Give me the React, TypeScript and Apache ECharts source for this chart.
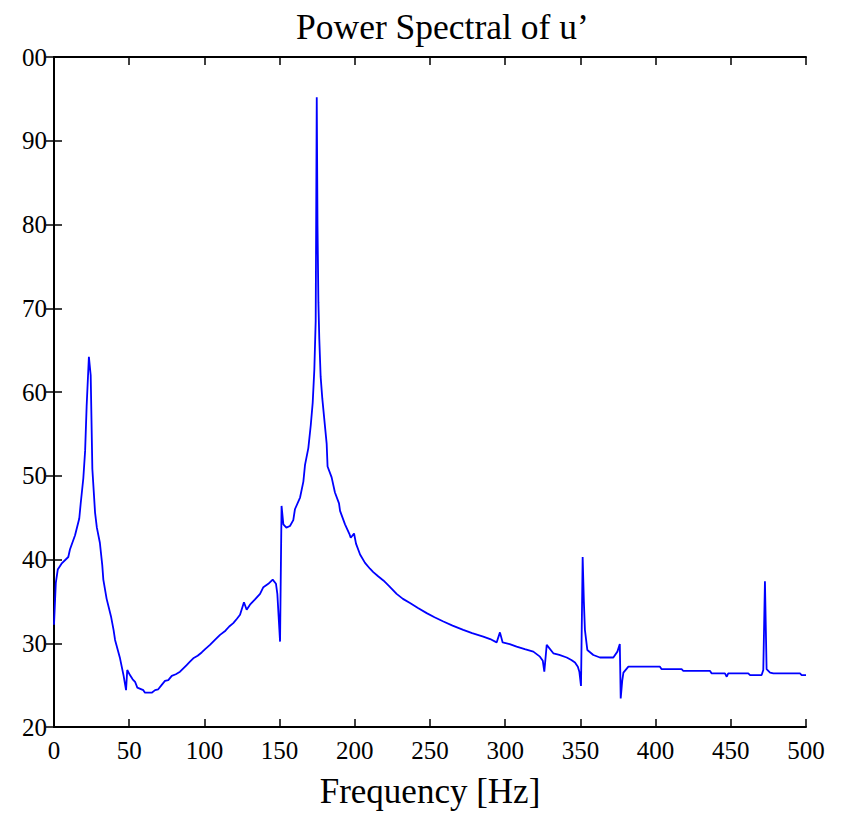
import React, { useEffect, useRef } from "react";
import * as echarts from "echarts";

const titleText = "Power Spectral of u\u2019";
const xName = "Frequency [Hz]";
const xTicks = [0, 50, 100, 150, 200, 250, 300, 350, 400, 450, 500];
const yTicks = [20, 30, 40, 50, 60, 70, 80, 90, 100];

const freq = [
  0, 1.2, 2.5, 5, 9.5, 10.6, 14, 16.8, 17.7, 19.5, 20.7, 21.7, 23.2, 24.4, 25.5, 27.3, 28.5, 30.5, 32.1,
  32.8, 35.0, 37.9, 39.6, 40.6, 43.9, 46.3, 47.9, 48.7, 50.5, 52.3, 53.9, 55.4, 59.4, 60.5, 65.0, 67.2,
  69.3, 71.5, 73.8, 76.0, 78.3, 81, 83.8, 86, 88.2, 90.4, 92.6, 95.5, 98.2, 100.5, 103.7, 107, 110.4,
  114, 116.5, 119.2, 121.5, 123.7, 126.3, 128.1, 130.3, 133.5, 137, 139.2, 142.5, 145.4, 147.6, 148.5,
  150.3, 151.3, 152.5, 154.5, 156.9, 159.1, 160.2, 163.6, 165.8, 166.9, 169.1, 170.7, 172.0, 173.1,
  174.0, 174.7, 175.2, 175.8, 176.4, 177.3, 178.4, 181.3, 181.9, 184.6, 186.8, 189.5, 190.2, 193.5,
  196.3, 197.3, 199.5, 200.8, 203.5, 206.8, 210.1, 212.3, 215.5, 219, 223, 227.8, 232, 236.7, 242,
  247.8, 253, 258.9, 265, 272.1, 278, 285.4, 290, 294.3, 296.5, 298.3, 303, 307.6, 313, 318.7, 323.1,
  325, 326.0, 327.6, 332.0, 336, 340.9, 344, 346.4, 348.3, 349.3, 350.4, 351.5, 352.3, 353.0, 354.6,
  358.6, 363.0, 371.9, 374.6, 376.2, 376.8, 377.8, 378.6, 381.9, 402.9, 404.0, 417.3, 418.4, 436.2,
  437.3, 446.1, 447.3, 448.3, 461.6, 462.8, 470.5, 471.6, 472.7, 473.8, 476.1, 478.3, 496.0, 497.1, 500,
];

const psd = [
  32.2, 37.2, 38.8, 39.5, 40.3, 41.2, 42.9, 44.9, 46.6, 49.7, 53.0, 58.3, 64.2, 62.0, 50.8, 45.6, 43.8, 42.0, 39.3,
  37.6, 35.3, 33.2, 31.6, 30.4, 28.2, 26.1, 24.4, 26.8, 26.2, 25.7, 25.4, 24.7, 24.4, 24.1, 24.1, 24.4,
  24.5, 25.0, 25.5, 25.6, 26.1, 26.3, 26.6, 27.0, 27.4, 27.8, 28.2, 28.5, 28.9, 29.3, 29.8, 30.4, 31.0,
  31.5, 32.0, 32.4, 32.9, 33.4, 34.9, 34.0, 34.6, 35.2, 35.9, 36.7, 37.1, 37.6, 37.1, 35.9,
  30.2, 46.4, 44.2, 43.8, 44.0, 44.7, 46.0, 47.4, 49.3, 51.3, 53.3, 56.0, 58.7, 62.7,
  68.5, 95.2, 80.0, 70.7, 66.3, 61.8, 59.2, 53.8, 51.1, 49.8, 48.0, 46.7, 45.8, 44.2,
  43.1, 42.6, 43.1, 41.9, 40.6, 39.6, 38.9, 38.5, 38.0, 37.5, 36.8, 35.9, 35.3, 34.8, 34.2,
  33.6, 33.1, 32.6, 32.1, 31.6, 31.2, 30.8, 30.5, 30.1, 31.3, 30.1, 29.9, 29.6, 29.3, 29.0, 28.4,
  27.9, 26.6, 29.8, 28.8, 28.6, 28.3, 28.0, 27.7, 27.2, 26.6, 24.9, 40.3, 35.0, 31.6, 29.2,
  28.6, 28.3, 28.3, 29.0, 29.9, 23.4, 25.5, 26.5, 27.2, 27.2, 26.9, 26.9, 26.7, 26.7,
  26.4, 26.4, 26.0, 26.4, 26.4, 26.2, 26.2, 26.8, 37.4, 26.9, 26.5, 26.4, 26.4, 26.2, 26.2,
];

const FONT = "'Liberation Serif', 'Times New Roman', serif";

export default function App() {
  const ref = useRef<HTMLDivElement>(null);
  useEffect(() => {
    if (!ref.current) return;
    const chart = echarts.init(ref.current, null, { renderer: "svg" });
    const data = freq.map((f, i) => [f, psd[i]]);
    const axisLine = { show: true, lineStyle: { color: "#000", width: 2 } };
    const axisTick = { show: true, inside: true, length: 8, lineStyle: { color: "#000", width: 1.5 } };
    const xMin = xTicks[0];
    const xMax = xTicks[xTicks.length - 1];
    const xInt = xTicks[1] - xTicks[0];
    const yMin = yTicks[0];
    const yMax = yTicks[yTicks.length - 1];
    const yInt = yTicks[1] - yTicks[0];
    chart.setOption({
      animation: false,
      backgroundColor: "#fff",
      title: {
        text: titleText,
        left: 291,
        top: 4,
        textStyle: { fontFamily: FONT, fontSize: 35.5, fontWeight: "normal", color: "#000" },
      },
      grid: { left: 54, right: 40, top: 57, bottom: 83, containLabel: false },
      xAxis: [
        {
          type: "value",
          position: "bottom",
          min: xMin,
          max: xMax,
          interval: xInt,
          axisLine,
          axisTick,
          splitLine: { show: false },
          axisLabel: { fontFamily: FONT, fontSize: 25, color: "#000", margin: 11 },
          name: xName,
          nameLocation: "middle",
          nameGap: 47,
          nameTextStyle: { fontFamily: FONT, fontSize: 35, color: "#000" },
        },
        {
          type: "value",
          position: "top",
          min: xMin,
          max: xMax,
          interval: xInt,
          axisLine,
          axisTick,
          splitLine: { show: false },
          axisLabel: { show: false },
        },
      ],
      yAxis: [
        {
          type: "value",
          position: "left",
          min: yMin,
          max: yMax,
          interval: yInt,
          axisLine,
          axisTick,
          splitLine: { show: false },
          axisLabel: {
            fontFamily: FONT,
            fontSize: 25,
            color: "#000",
            margin: 7,
            formatter: (v: number) => (v >= 100 ? String(v).slice(1) : String(v)),
          },
        },
        {
          type: "value",
          position: "right",
          min: yMin,
          max: yMax,
          interval: yInt,
          axisLine,
          axisTick,
          splitLine: { show: false },
          axisLabel: { show: false },
        },
      ],
      series: [
        {
          type: "line",
          data,
          xAxisIndex: 0,
          yAxisIndex: 0,
          showSymbol: false,
          symbol: "none",
          lineStyle: { color: "#0000ff", width: 1.8 },
        },
      ],
    });
    return () => chart.dispose();
  }, []);
  return (
    <div
      ref={ref}
      style={{ position: "fixed", left: 0, top: 0, width: 846, height: 814, background: "#fff" }}
    />
  );
}
